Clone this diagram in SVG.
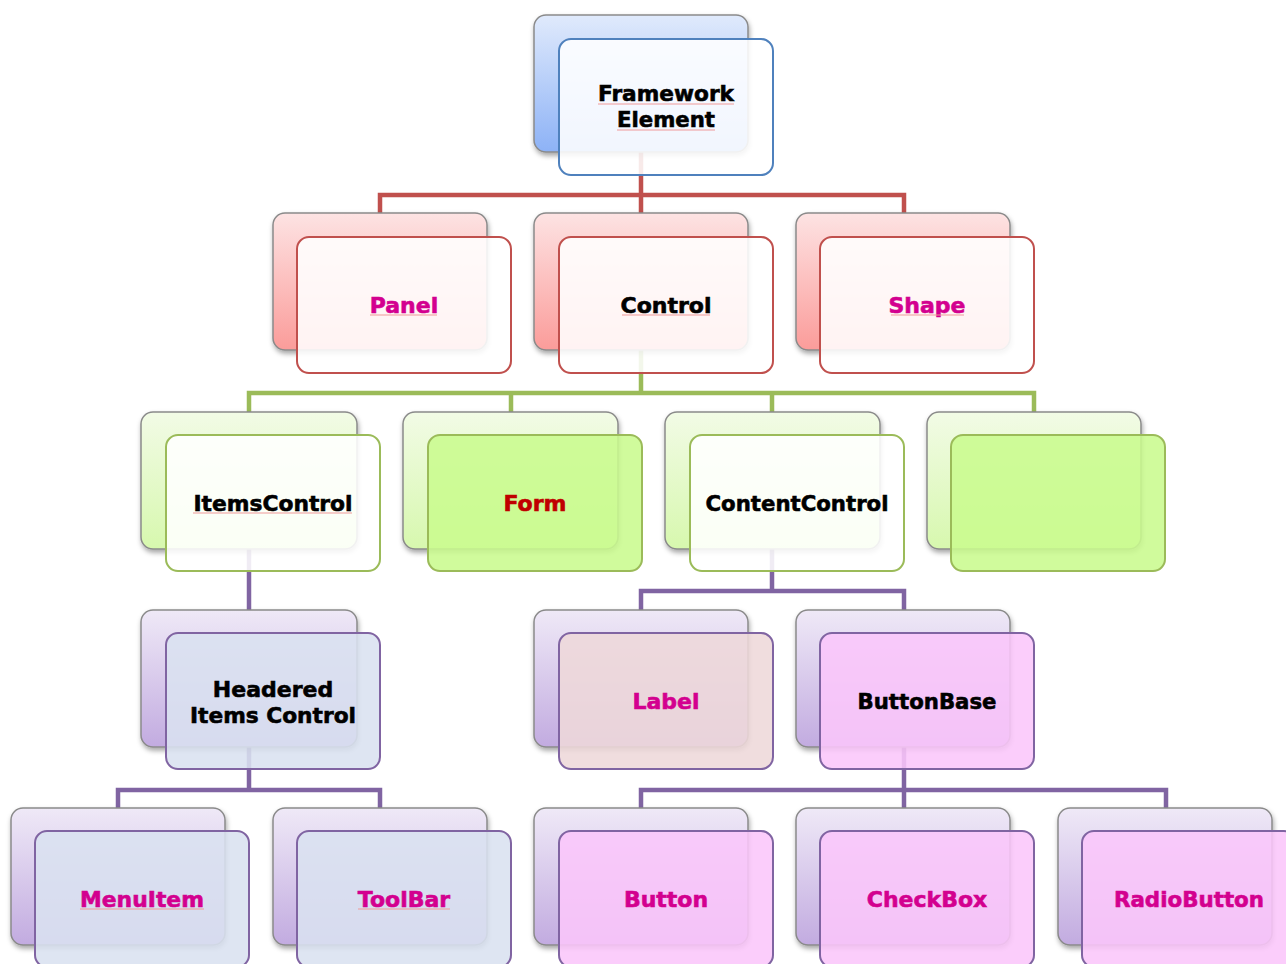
<svg xmlns="http://www.w3.org/2000/svg" width="1286" height="964" viewBox="0 0 1286 964">
<defs>
<linearGradient id="gBlue" x1="0" y1="0" x2="0" y2="1"><stop offset="0" stop-color="#e0eafc"/><stop offset="1" stop-color="#8db2f6"/></linearGradient>
<linearGradient id="gRed" x1="0" y1="0" x2="0" y2="1"><stop offset="0" stop-color="#fde3e3"/><stop offset="1" stop-color="#fb9c9a"/></linearGradient>
<linearGradient id="gGreen" x1="0" y1="0" x2="0" y2="1"><stop offset="0" stop-color="#f2fbe6"/><stop offset="1" stop-color="#d7f8ae"/></linearGradient>
<linearGradient id="gPurple" x1="0" y1="0" x2="0" y2="1"><stop offset="0" stop-color="#efe9f7"/><stop offset="1" stop-color="#c2abe0"/></linearGradient>
<filter id="sh" x="-10%" y="-10%" width="125%" height="130%"><feDropShadow dx="1" dy="3" stdDeviation="2.5" flood-color="#000" flood-opacity="0.35"/></filter>
</defs>
<style>
.back{stroke:#8a8a8a;stroke-width:1.5;filter:url(#sh)}
.front{stroke-width:2;fill-opacity:0.88}
.fb{stroke:#4f81bd}.fr{stroke:#c0504d}.fg{stroke:#9bbb59}.fp{stroke:#8064a2}
.w{fill:#ffffff}.lg{fill:#c9fa8e}.bl{fill:#d9e1f0}.lb{fill:#eed8d9}.pk{fill:#fac6fa}
text{font-family:"DejaVu Sans","Liberation Sans",sans-serif;font-weight:bold;font-size:22px;text-anchor:middle;stroke-width:0.6}
.k{fill:#000;stroke:#000}.m{fill:#d3008f;stroke:#d3008f}.dr{fill:#c00000;stroke:#c00000}
.sp{stroke:#f09a9a;stroke-width:1.2;fill:none}
.c{fill:none;stroke-width:4.5;stroke-linejoin:miter}
</style>
<g id="connectors">
<path class="c" stroke="#c0504d" d="M641,152 V195 M380,213 V195 H904 V213 M641,195 V213"/>
<path class="c" stroke="#9bbb59" d="M641,350 V393 M249,412 V393 H1034 V412 M511,393 V412 M772,393 V412"/>
<path class="c" stroke="#8064a2" d="M249,549 V610"/>
<path class="c" stroke="#8064a2" d="M772,549 V591 M641,610 V591 H904 V610"/>
<path class="c" stroke="#8064a2" d="M249,747 V790 M118,808 V790 H380 V808"/>
<path class="c" stroke="#8064a2" d="M904,747 V790 M641,808 V790 H1166 V808 M904,790 V808"/>
</g>
<g id="n-framework">
<rect class="back" x="534" y="15" width="214" height="137" rx="12" fill="url(#gBlue)"/>
<rect class="front fb w" x="559" y="39" width="214" height="136" rx="12"/>
<text class="k" x="666" y="101" textLength="136" lengthAdjust="spacingAndGlyphs">Framework</text>
<text class="k" x="666" y="127" textLength="98" lengthAdjust="spacingAndGlyphs">Element</text>
<path class="sp" d="M598,104 H734 M617,130 H715"/>
</g>
<g id="n-panel">
<rect class="back" x="273" y="213" width="214" height="137" rx="12" fill="url(#gRed)"/>
<rect class="front fr w" x="297" y="237" width="214" height="136" rx="12"/>
<text class="m" x="404" y="313">Panel</text>
<path class="sp" d="M370,315 H437"/>
</g>
<g id="n-control">
<rect class="back" x="534" y="213" width="214" height="137" rx="12" fill="url(#gRed)"/>
<rect class="front fr w" x="559" y="237" width="214" height="136" rx="12"/>
<text class="k" x="666" y="313">Control</text>
<path class="sp" d="M622,315 H710"/>
</g>
<g id="n-shape">
<rect class="back" x="796" y="213" width="214" height="137" rx="12" fill="url(#gRed)"/>
<rect class="front fr w" x="820" y="237" width="214" height="136" rx="12"/>
<text class="m" x="927" y="313">Shape</text>
<path class="sp" d="M891,315 H964"/>
</g>
<g id="n-itemscontrol">
<rect class="back" x="141" y="412" width="216" height="137" rx="12" fill="url(#gGreen)"/>
<rect class="front fg w" x="166" y="435" width="214" height="136" rx="12"/>
<text class="k" x="273" y="511" textLength="159" lengthAdjust="spacingAndGlyphs">ItemsControl</text>
<path class="sp" d="M193,513 H352"/>
</g>
<g id="n-form">
<rect class="back" x="403" y="412" width="215" height="137" rx="12" fill="url(#gGreen)"/>
<rect class="front fg lg" x="428" y="435" width="214" height="136" rx="12"/>
<text class="dr" x="535" y="511">Form</text>
</g>
<g id="n-contentcontrol">
<rect class="back" x="665" y="412" width="215" height="137" rx="12" fill="url(#gGreen)"/>
<rect class="front fg w" x="690" y="435" width="214" height="136" rx="12"/>
<text class="k" x="797" y="511" textLength="183" lengthAdjust="spacingAndGlyphs">ContentControl</text>
</g>
<g id="n-blank">
<rect class="back" x="927" y="412" width="214" height="137" rx="12" fill="url(#gGreen)"/>
<rect class="front fg lg" x="951" y="435" width="214" height="136" rx="12"/>
</g>
<g id="n-headered">
<rect class="back" x="141" y="610" width="216" height="137" rx="12" fill="url(#gPurple)"/>
<rect class="front fp bl" x="166" y="633" width="214" height="136" rx="12"/>
<text class="k" x="273" y="697">Headered</text>
<text class="k" x="273" y="723" textLength="166" lengthAdjust="spacingAndGlyphs">Items Control</text>
</g>
<g id="n-label">
<rect class="back" x="534" y="610" width="214" height="137" rx="12" fill="url(#gPurple)"/>
<rect class="front fp lb" x="559" y="633" width="214" height="136" rx="12"/>
<text class="m" x="666" y="709">Label</text>
</g>
<g id="n-buttonbase">
<rect class="back" x="796" y="610" width="214" height="137" rx="12" fill="url(#gPurple)"/>
<rect class="front fp pk" x="820" y="633" width="214" height="136" rx="12"/>
<text class="k" x="927" y="709" textLength="139" lengthAdjust="spacingAndGlyphs">ButtonBase</text>
</g>
<g id="n-menuitem">
<rect class="back" x="11" y="808" width="214" height="137" rx="12" fill="url(#gPurple)"/>
<rect class="front fp bl" x="35" y="831" width="214" height="136" rx="12"/>
<text class="m" x="142" y="907" textLength="124" lengthAdjust="spacingAndGlyphs">MenuItem</text>
<path class="sp" d="M80,909 H204"/>
</g>
<g id="n-toolbar">
<rect class="back" x="273" y="808" width="214" height="137" rx="12" fill="url(#gPurple)"/>
<rect class="front fp bl" x="297" y="831" width="214" height="136" rx="12"/>
<text class="m" x="404" y="907">ToolBar</text>
<path class="sp" d="M358,909 H450"/>
</g>
<g id="n-button">
<rect class="back" x="534" y="808" width="214" height="137" rx="12" fill="url(#gPurple)"/>
<rect class="front fp pk" x="559" y="831" width="214" height="136" rx="12"/>
<text class="m" x="666" y="907">Button</text>
</g>
<g id="n-checkbox">
<rect class="back" x="796" y="808" width="214" height="137" rx="12" fill="url(#gPurple)"/>
<rect class="front fp pk" x="820" y="831" width="214" height="136" rx="12"/>
<text class="m" x="927" y="907">CheckBox</text>
</g>
<g id="n-radiobutton">
<rect class="back" x="1058" y="808" width="214" height="137" rx="12" fill="url(#gPurple)"/>
<rect class="front fp pk" x="1082" y="831" width="214" height="136" rx="12"/>
<text class="m" x="1189" y="907" textLength="150" lengthAdjust="spacingAndGlyphs">RadioButton</text>
</g>
</svg>
